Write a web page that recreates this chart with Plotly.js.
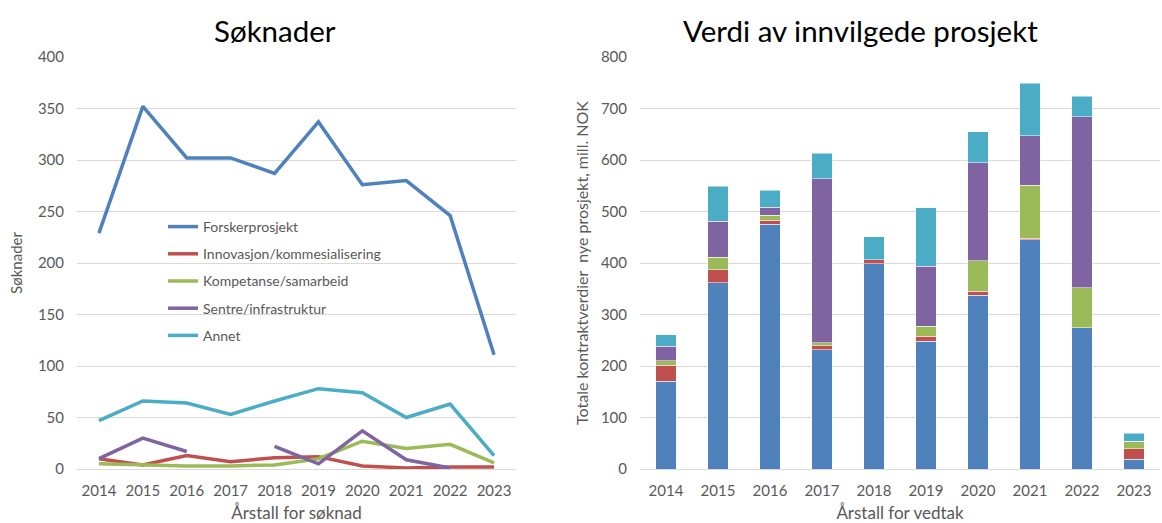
<!DOCTYPE html>
<html>
<head>
<meta charset="utf-8">
<script src="https://cdn.plot.ly/plotly-3.0.1.min.js"></script>
<style>html,body{margin:0;padding:0;background:#fff;}#chart{width:1162px;height:523px;}</style>
</head>
<body>
<div id="chart"></div>
<script>
// Categories
var years = ['2014','2015','2016','2017','2018','2019','2020','2021','2022','2023'];
var seriesNames = ['Forskerprosjekt','Innovasjon/kommesialisering','Kompetanse/samarbeid','Sentre/infrastruktur','Annet'];
var seriesColors = ['#4F81BD','#C0504D','#9BBB59','#8064A2','#4BACC6'];

// Left chart: Søknader (number of applications)
var soknadForsker = [229, 352, 302, 302, 287, 337, 276, 280, 246, 111];
var soknadInnov   = [10, 4, 13, 7, 11, 12, 3, 1, 2, 2];
var soknadKompet  = [5, 4, 3, 3, 4, 10, 27, 20, 24, 6];
var soknadSentre  = [10, 30, 17, null, 22, 5, 37, 9, 1, null];
var soknadAnnet   = [47, 66, 64, 53, 66, 78, 74, 50, 63, 13];

// Right chart: Verdi av innvilgede prosjekt (mill. NOK)
var verdiForsker = [170, 362, 475, 232, 399, 248, 337, 445, 274, 19];
var verdiInnov   = [31, 25, 8, 7, 7, 10, 8, 3, 0, 20];
var verdiKompet  = [9, 24, 10, 6, 0, 19, 59, 103, 78, 15];
var verdiSentre  = [28, 70, 15, 319, 0, 117, 191, 96, 332, 0];
var verdiAnnet   = [23, 68, 33, 49, 45, 113, 60, 102, 40, 15];

var soknad = [soknadForsker, soknadInnov, soknadKompet, soknadSentre, soknadAnnet];
var verdi = [verdiForsker, verdiInnov, verdiKompet, verdiSentre, verdiAnnet];

var FONT = 'Lato, "Open Sans", sans-serif';
var GRAY = '#595959';
var GRID = '#D9D9D9';

var traces = [];
for (var i = 0; i < 5; i++) {
  traces.push({
    type: 'scatter', mode: 'lines', x: years, y: soknad[i], name: seriesNames[i],
    line: {color: seriesColors[i], width: 3.5}, connectgaps: false,
    legendgroup: 'g' + i, xaxis: 'x', yaxis: 'y', hoverinfo: 'skip'
  });
}
for (var j = 0; j < 5; j++) {
  traces.push({
    type: 'bar', x: years, y: verdi[j], name: seriesNames[j],
    marker: {color: seriesColors[j], line: {color: '#ffffff', width: 0.5}},
    showlegend: false, xaxis: 'x2', yaxis: 'y2', hoverinfo: 'skip'
  });
}

var H = 523, W = 1162;
var yDom = [(H - 469) / H, (H - 57) / H];

var baseX = {
  type: 'category', showgrid: false, zeroline: false, showline: true, linecolor: GRID, linewidth: 1,
  tickfont: {family: FONT, size: 15, color: GRAY}, ticks: '', fixedrange: true, automargin: false,
  ticklabelstandoff: 8, range: [-0.5, 9.5]
};
var baseY = {
  showgrid: true, gridcolor: GRID, gridwidth: 1, zeroline: false, showline: false,
  tickfont: {family: FONT, size: 15, color: GRAY}, ticks: '', automargin: false, ticklabelstandoff: 12
};

var layout = {
  width: W, height: H,
  margin: {l: 0, r: 0, t: 0, b: 0},
  paper_bgcolor: '#ffffff', plot_bgcolor: '#ffffff',
  font: {family: FONT, color: GRAY},
  barmode: 'stack', bargap: 0.61,
  showlegend: true,
  legend: {
    x: 163 / W, y: (H - 211) / H, xanchor: 'left', yanchor: 'top',
    bgcolor: 'rgba(0,0,0,0)', traceorder: 'grouped', tracegroupgap: 6,
    font: {family: FONT, size: 14, color: GRAY}
  },
  xaxis: Object.assign({}, baseX, {domain: [77 / W, 516 / W], anchor: 'y',
    title: {text: 'Årstall for søknad', font: {family: FONT, size: 17, color: GRAY}, standoff: 12}}),
  yaxis: Object.assign({}, baseY, {domain: yDom, anchor: 'x', range: [0, 400], dtick: 50,
    title: {text: 'Søknader', font: {family: FONT, size: 15, color: GRAY}, standoff: 11}}),
  xaxis2: Object.assign({}, baseX, {domain: [640 / W, 1160 / W], anchor: 'y2',
    title: {text: 'Årstall for vedtak', font: {family: FONT, size: 17, color: GRAY}, standoff: 12}}),
  yaxis2: Object.assign({}, baseY, {domain: yDom, anchor: 'x2', range: [0, 800], dtick: 100,
    title: {text: 'Totale kontraktverdier  nye prosjekt, mill. NOK', font: {family: FONT, size: 16, color: GRAY}, standoff: 8}}),
  annotations: [
    {text: 'Søknader', xref: 'paper', yref: 'paper', x: 275 / W, y: (H - 30) / H,
     xanchor: 'center', yanchor: 'middle', showarrow: false, font: {family: FONT, size: 29.5, color: '#000000'}},
    {text: 'Verdi av innvilgede prosjekt', xref: 'paper', yref: 'paper', x: 860 / W, y: (H - 30) / H,
     xanchor: 'center', yanchor: 'middle', showarrow: false, font: {family: FONT, size: 29.5, color: '#000000'}}
  ]
};

Plotly.newPlot('chart', traces, layout, {displayModeBar: false, staticPlot: true});
</script>
</body>
</html>
